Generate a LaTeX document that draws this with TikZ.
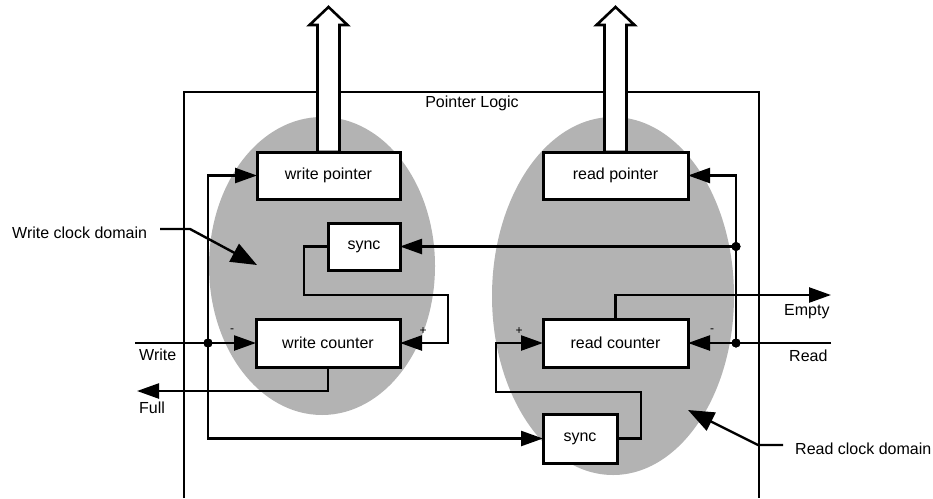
\documentclass[tikz,border=0pt]{standalone}
\usepackage{fontspec}
\setmainfont{Liberation Sans}
\usetikzlibrary{arrows.meta,calc}
\definecolor{domaingray}{RGB}{179,179,179}
\begin{document}
\begin{tikzpicture}[x=1pt,y=-1pt,
  wire/.style={line width=2.4pt},
  feed/.style={wire,-{Triangle[length=22pt,width=15pt]}},
  bothfeed/.style={wire,{Triangle[length=22pt,width=15pt]}-{Triangle[length=22pt,width=15pt]}},
  callout/.style={wire,-{Triangle[length=26pt,width=20pt]}},
  block/.style={draw,line width=3pt,fill=white,inner sep=0pt,outer sep=0pt,
    font=\fontsize{16}{19}\selectfont},
  lbl/.style={font=\fontsize{16}{19}\selectfont,inner sep=0pt},
  sign/.style={font=\fontsize{12}{14}\selectfont,inner sep=0pt},
  junction/.style={circle,fill=black,inner sep=0pt,minimum size=9pt},
  bus/.style={draw,line width=2.6pt,fill=white}
]
\useasboundingbox (0,0) rectangle (933,498);

% clock domains
\fill[domaingray] (322,266) ellipse [x radius=113, y radius=149];
\fill[domaingray] (613,296) ellipse [x radius=121, y radius=179];

% pointer logic frame
\draw[line width=2.6pt] (184,498) -- (184,92) -- (759,92) -- (759,498);
\node[lbl] (title) at (472,103) {Pointer Logic};

% blocks
\node[block,minimum width=143pt,minimum height=47pt] (wp) at (328.5,175.5) {write pointer};
\node[block,minimum width=72pt,minimum height=47pt]  (ws) at (364,246.5) {sync};
\node[block,minimum width=144pt,minimum height=48pt] (wc) at (328,343) {write counter};
\node[block,minimum width=145pt,minimum height=47pt] (rp) at (615.5,175.5) {read pointer};
\node[block,minimum width=145pt,minimum height=48pt] (rc) at (615.5,343) {read counter};
\node[block,minimum width=74pt,minimum height=49pt]  (rs) at (580,438.5) {sync};

% junctions and free ends
\node[junction] (wj) at (208,343) {};
\node[junction] (rj1) at (736,246.5) {};
\node[junction] (rj2) at (736,343) {};
\coordinate (win) at (135,343);
\coordinate (fullout) at (137,391);
\coordinate (rin) at (831,343);
\coordinate (emptyout) at (831,295);
\coordinate (wl1) at (304,295);
\coordinate (wl2) at (448,343);
\coordinate (rl1) at (641,392);
\coordinate (rl2) at (496,343);

% write side
\draw[feed] (win) -- (wc.west);
\draw[bothfeed] (wp.west) -| (wj.center) |- (rs.west);
\draw[feed] (wc.south) |- (fullout);
\draw[feed] (ws.west) -| (wl1) -| (wl2) -- (wc.east);

% read side
\draw[feed] (rin) -- (rc.east);
\draw[feed] (rj2.center) |- (rp.east);
\draw[feed] (rj1.center) -- (ws.east);
\draw[feed] (rc.north) |- (emptyout);
\draw[feed] (rs.east) -| (rl1) -| (rl2) -- (rc.west);

% redraw junction dots on top
\fill (wj) circle (4.5pt);
\fill (rj1) circle (4.5pt);
\fill (rj2) circle (4.5pt);

% pointer outputs
\draw[bus] ($(wp.north)+(-11,0)$) -- ++(0,-127) -- ++(-8,0) -- ++(19,-18)
  -- ++(19,18) -- ++(-8,0) -- ++(0,127) -- cycle;
\draw[bus] ($(rp.north)+(-11,0)$) -- ++(0,-127) -- ++(-8,0) -- ++(19,-18)
  -- ++(19,18) -- ++(-8,0) -- ++(0,127) -- cycle;

% counter input signs
\node[sign] (wcm) at (232,331) {-};
\node[sign] (wcp) at (423,331) {+};
\node[sign] (rcp) at (519,331) {+};
\node[sign] (rcm) at (712,331) {-};

% port labels
\node[lbl,anchor=west] (lwrite) at (139,355) {Write};
\node[lbl,anchor=west] (lfull) at (139,408) {Full};
\node[lbl,anchor=west] (lempty) at (784,312) {Empty};
\node[lbl,anchor=west] (lread) at (789,356) {Read};

% domain callouts
\node[lbl,anchor=west] (wdom) at (12,233) {Write clock domain};
\coordinate (wcs) at (160,229);
\coordinate (wck) at (190,229);
\coordinate (wct) at (257,265);
\draw[callout] (wcs) -- (wck) -- (wct);
\node[lbl,anchor=west] (rdom) at (795,449) {Read clock domain};
\coordinate (rcs) at (783,445);
\coordinate (rck) at (758,445);
\coordinate (rct) at (688,410);
\draw[callout] (rcs) -- (rck) -- (rct);
\end{tikzpicture}
\end{document}
